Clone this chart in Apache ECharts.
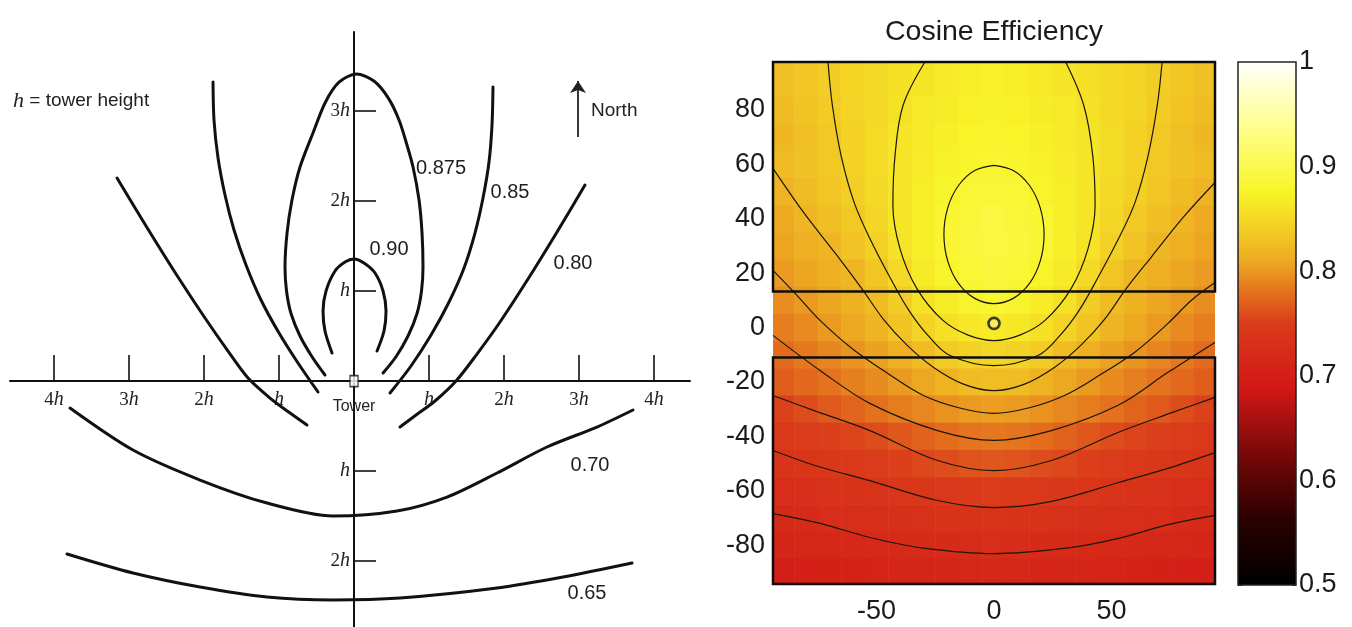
<!DOCTYPE html>
<html>
<head>
<meta charset="utf-8">
<title>Cosine efficiency of a heliostat field</title>
<script src="https://cdn.jsdelivr.net/npm/echarts@6/dist/echarts.min.js"></script>
<style>
  html, body { margin: 0; padding: 0; background: #ffffff; }
  #chart { width: 1352px; height: 627px; }
</style>
</head>
<body>
<div id="chart"></div>
<script>
// ---------- Left: iso-cosine-efficiency curves around a tower (units of tower height h) ----------
const sketchTicksX = [-4, -3, -2, -1, 0, 1, 2, 3, 4];
const sketchTicksY = [-2, -1, 1, 2, 3];

const iso090 = [[-0.293,0.311],[-0.387,0.556],[-0.413,0.778],[-0.373,1.0],[-0.253,1.222],[-0.12,1.322],[0,1.356],
  [0.133,1.311],[0.28,1.2],[0.387,1.0],[0.427,0.778],[0.4,0.556],[0.307,0.333]];
const iso0875 = [[-0.387,0.067],[-0.56,0.27],[-0.72,0.5],[-0.84,0.75],[-0.9,1.0],[-0.92,1.267],[-0.893,1.644],
  [-0.827,2.011],[-0.72,2.378],[-0.547,2.756],[-0.38,3.1],[-0.2,3.32],[0.03,3.411],[0.27,3.33],[0.46,3.14],
  [0.6,2.9],[0.7,2.64],[0.787,2.378],[0.867,2.011],[0.907,1.644],[0.92,1.267],[0.9,1.0],[0.84,0.75],[0.72,0.5],
  [0.56,0.27],[0.387,0.089]];
const iso085West = [[-1.88,3.322],[-1.867,2.9],[-1.813,2.478],[-1.72,2.067],[-1.6,1.678],[-1.44,1.289],[-1.24,0.9],
  [-1.0,0.533],[-0.747,0.2],[-0.48,-0.122]];
const iso085East = [[1.853,3.267],[1.84,2.844],[1.8,2.433],[1.72,2.033],[1.613,1.644],[1.467,1.256],[1.267,0.878],
  [1.027,0.511],[0.76,0.167],[0.48,-0.133]];
const iso080West = [[-3.16,2.256],[-2.773,1.722],[-2.373,1.189],[-1.987,0.7],[-1.68,0.333],[-1.413,0.033],
  [-1.12,-0.189],[-0.853,-0.356],[-0.627,-0.489]];
const iso080East = [[3.08,2.178],[2.707,1.656],[2.32,1.133],[1.947,0.656],[1.64,0.3],[1.36,0],[1.08,-0.222],
  [0.827,-0.378],[0.613,-0.511]];
const iso070 = [[-3.787,-0.3],[-2.947,-0.767],[-2.053,-1.1],[-1.16,-1.356],[-0.28,-1.5],[0.573,-1.444],
  [1.24,-1.289],[1.907,-1.022],[2.573,-0.733],[3.24,-0.511],[3.72,-0.322]];
const iso065 = [[-3.827,-1.922],[-2.947,-2.133],[-2.053,-2.289],[-1.16,-2.4],[-0.28,-2.433],[0.613,-2.411],
  [1.907,-2.3],[2.787,-2.178],[3.707,-2.022]];

// curve value tags: [text, x, y]
const isoTags = [['0.90',0.467,1.456],['0.875',1.16,2.356],['0.85',2.08,2.1],['0.80',2.92,1.31],
  ['0.70',3.147,-0.933],['0.65',3.107,-2.356]];
const northArrow = [[2.987,2.711],[2.987,3.333]];
const towerBase = [[0, 0]];

// ---------- Right: cosine efficiency map (x, y in m) ----------
const effX = [-90,-80,-70,-60,-50,-40,-30,-20,-10,0,10,20,30,40,50,60,70,80,90];
const effY = [90,80,70,60,50,40,30,20,10,0,-10,-20,-30,-40,-50,-60,-70,-80,-90];
const effRows = [
  [0.829,0.835,0.840,0.846,0.851,0.857,0.862,0.867,0.870,0.872,0.870,0.867,0.862,0.857,0.851,0.846,0.840,0.835,0.829],
  [0.825,0.832,0.839,0.846,0.852,0.859,0.865,0.869,0.872,0.874,0.872,0.869,0.865,0.859,0.852,0.846,0.839,0.832,0.825],
  [0.821,0.829,0.837,0.845,0.853,0.861,0.866,0.871,0.875,0.877,0.875,0.871,0.866,0.861,0.853,0.845,0.837,0.829,0.821],
  [0.824,0.830,0.836,0.844,0.853,0.862,0.868,0.874,0.878,0.880,0.878,0.874,0.868,0.862,0.853,0.844,0.836,0.830,0.824],
  [0.818,0.825,0.833,0.841,0.852,0.862,0.870,0.877,0.884,0.886,0.884,0.877,0.870,0.862,0.852,0.841,0.833,0.825,0.818],
  [0.811,0.819,0.828,0.836,0.849,0.862,0.871,0.881,0.886,0.890,0.886,0.881,0.871,0.862,0.849,0.836,0.828,0.819,0.811],
  [0.807,0.814,0.820,0.831,0.843,0.860,0.871,0.881,0.887,0.890,0.887,0.881,0.871,0.860,0.843,0.831,0.820,0.814,0.807],
  [0.802,0.808,0.814,0.820,0.833,0.851,0.866,0.877,0.884,0.887,0.884,0.877,0.866,0.851,0.833,0.820,0.814,0.808,0.802],
  [0.795,0.801,0.808,0.815,0.825,0.840,0.859,0.868,0.877,0.882,0.877,0.868,0.859,0.840,0.825,0.815,0.808,0.801,0.795],
  [0.786,0.793,0.801,0.809,0.818,0.832,0.846,0.857,0.863,0.867,0.863,0.857,0.846,0.832,0.818,0.809,0.801,0.793,0.786],
  [0.776,0.783,0.790,0.798,0.806,0.814,0.824,0.839,0.845,0.849,0.845,0.839,0.824,0.814,0.806,0.798,0.790,0.783,0.776],
  [0.768,0.774,0.780,0.787,0.794,0.801,0.809,0.817,0.825,0.827,0.825,0.817,0.809,0.801,0.794,0.787,0.780,0.774,0.768],
  [0.753,0.759,0.766,0.772,0.779,0.785,0.791,0.797,0.802,0.804,0.802,0.797,0.791,0.785,0.779,0.772,0.766,0.759,0.753],
  [0.745,0.748,0.751,0.755,0.759,0.765,0.771,0.777,0.781,0.783,0.781,0.777,0.771,0.765,0.759,0.755,0.751,0.748,0.745],
  [0.736,0.739,0.742,0.745,0.749,0.752,0.756,0.759,0.763,0.765,0.763,0.759,0.756,0.752,0.749,0.745,0.742,0.739,0.736],
  [0.725,0.728,0.731,0.734,0.737,0.740,0.742,0.744,0.747,0.749,0.747,0.744,0.742,0.740,0.737,0.734,0.731,0.728,0.725],
  [0.719,0.722,0.724,0.726,0.728,0.730,0.732,0.734,0.735,0.736,0.735,0.734,0.732,0.730,0.728,0.726,0.724,0.722,0.719],
  [0.710,0.712,0.714,0.716,0.718,0.720,0.721,0.722,0.723,0.724,0.723,0.722,0.721,0.720,0.718,0.716,0.714,0.712,0.710],
  [0.700,0.702,0.704,0.706,0.708,0.709,0.710,0.711,0.712,0.713,0.712,0.711,0.710,0.709,0.708,0.706,0.704,0.702,0.700]
];

// contour lines of the map, levels 0.88 ... 0.72
const c088 = [[0,59.6],[8.2,57.7],[15.1,52.2],[19.7,43.9],[21.3,34.2],[19.7,24.5],[15.1,16.2],[8.2,10.7],[0,8.8],
  [-8.2,10.7],[-15.1,16.2],[-19.7,24.5],[-21.3,34.2],[-19.7,43.9],[-15.1,52.2],[-8.2,57.7],[0,59.6]];
const c086 = [[-29.4,97.6],[-38.7,81.6],[-42.1,63.2],[-43,44.9],[-40,29],[-32.8,14.3],[-21.7,2.6],[-11,-2.8],[0,-4.8],
  [11,-2.8],[21.7,2.6],[32.8,14.3],[40,29],[43,44.9],[42,63.2],[38.2,81.6],[30.5,97.6]];
const c084 = [[-70.6,97.6],[-68.8,82],[-65,63],[-59.5,46],[-52.8,32.7],[-44,18],[-36,6],[-28,-3],[-18.7,-10.3],[0,-14],
  [18.7,-10.3],[28,-3],[36,6],[44,18],[53,32.7],[60,46],[65.5,63],[69.5,82],[71.5,97.6]];
const c082 = [[-94,58.5],[-81,42.3],[-66.8,26.5],[-56,14],[-47,3],[-37,-6.5],[-26,-14.5],[-13,-20.8],[0,-23.2],
  [13,-20.8],[26,-14.5],[37,-6.5],[47,3],[56,14],[67,26],[81,41],[94,53.3]];
const c080 = [[-94,21],[-84,12],[-74,2.6],[-60,-8],[-45,-17],[-30,-25],[-15,-29.5],[0,-31.6],[15,-29.5],[30,-25],
  [45,-17.5],[60,-9],[74,1.5],[84,10],[94,16.5]];
const c078 = [[-94,-2.9],[-74,-15.8],[-52.8,-27.9],[-24,-37.9],[0,-41.5],[24,-38],[53,-28.5],[74,-16.5],[94,-5.5]];
const c076 = [[-94,-25],[-75,-31],[-52.8,-37.9],[-24,-48.9],[0,-52.6],[24,-49],[53,-38.5],[75,-31.5],[94,-25.7]];
const c074 = [[-94,-45.2],[-75,-51],[-52.8,-56.3],[-24,-63.6],[0,-66.2],[24,-64],[53,-57],[75,-51.5],[94,-46]];
const c072 = [[-94,-68.4],[-74,-72],[-52.8,-77.2],[-31.5,-80.9],[0,-83.1],[31.5,-81],[53,-77.5],[74,-72.5],[94,-69.1]];

// heliostat sub-fields [x1, yTop, x2, yBottom] and the tower
const fieldBlocks = [[-94,97.6,94,13.2],[-94,-11,94,-94.3]];
const effTower = [[0, 1.5]];
const effTicksX = [-50, 0, 50];
const effTicksY = [-80, -60, -40, -20, 0, 20, 40, 60, 80];
const effRange = [0.5, 1];

// "hot"-style colour scale from 0.5 to 1
const hotColors = ['#000000','#2a0000','#780808','#d21717','#da3c1a','#eeae22','#f8f428','#ffff8c','#ffffff'];

// ---------- chart ----------
const chart = echarts.init(document.getElementById('chart'), null, { renderer: 'canvas' });

const SANS = 'Liberation Sans';
const SERIF = 'Liberation Serif';
const INK = '#111111';
const CELL = 10;
const X_LIM = [-94, 94];
const Y_LIM = [-94.3, 97.6];

const heatData = [];
effRows.forEach((row, i) => row.forEach((v, j) => heatData.push([effX[j], effY[i], v])));

function hLabel(v) {
  const k = Math.abs(Math.round(v));
  if (k === 0) return '{t|Tower}';
  return (k === 1 ? '' : '{n|' + k + '}') + '{h|h}';
}
const hRich = {
  n: { fontFamily: SERIF, fontSize: 19, color: '#222' },
  h: { fontFamily: SERIF, fontStyle: 'italic', fontSize: 20, color: '#222' },
  t: { fontFamily: SANS, fontSize: 16, color: '#222', padding: [9, 0, 0, 0] }
};

function curve(data) {
  return {
    type: 'line', xAxisIndex: 0, yAxisIndex: 0, data: data, smooth: 0.3,
    symbol: 'none', silent: true, clip: false,
    lineStyle: { color: INK, width: 3, cap: 'round' }
  };
}
function contour(data) {
  return {
    type: 'line', xAxisIndex: 1, yAxisIndex: 1, data: data, smooth: 0.35,
    symbol: 'none', silent: true, z: 4,
    lineStyle: { color: '#1c1608', width: 1.2 }
  };
}

const series = [];
[iso090, iso0875, iso085West, iso085East, iso080West, iso080East, iso070, iso065].forEach(c => series.push(curve(c)));

series.push({
  type: 'lines', coordinateSystem: 'cartesian2d', xAxisIndex: 0, yAxisIndex: 0, silent: true,
  symbol: ['none', 'arrow'], symbolSize: [1, 12],
  lineStyle: { color: '#222', width: 1.8, opacity: 1 },
  data: [{ coords: northArrow }]
});
series.push({
  type: 'scatter', xAxisIndex: 0, yAxisIndex: 0, data: towerBase, symbol: 'rect', symbolSize: [8, 11],
  silent: true, z: 5, itemStyle: { color: '#ffffff', borderColor: INK, borderWidth: 1.5 }
});
series.push({
  type: 'scatter', xAxisIndex: 0, yAxisIndex: 0, symbolSize: 2, silent: true, z: 6,
  itemStyle: { color: 'rgba(255,255,255,0)', opacity: 1 },
  data: isoTags.map(t => ({ name: t[0], value: [t[1], t[2]] })),
  label: { show: true, position: 'inside', formatter: '{b}', fontFamily: SANS, fontSize: 20,
    color: '#1e1e1e', opacity: 1, textBorderWidth: 0 },
  labelLayout: { hideOverlap: false }
});

const heatIndex = series.length;
series.push({
  type: 'custom', xAxisIndex: 1, yAxisIndex: 1, data: heatData, silent: true, z: 1,
  encode: { x: 0, y: 1 },
  renderItem: function (params, api) {
    const x = api.value(0), y = api.value(1);
    const left = x === effX[0] ? X_LIM[0] : x - CELL / 2;
    const right = x === effX[effX.length - 1] ? X_LIM[1] : x + CELL / 2;
    const top = y === effY[0] ? Y_LIM[1] : y + CELL / 2;
    const bottom = y === effY[effY.length - 1] ? Y_LIM[0] : y - CELL / 2;
    const p1 = api.coord([left, top]);
    const p2 = api.coord([right, bottom]);
    const cs = params.coordSys;
    const shape = echarts.graphic.clipRectByRect(
      { x: p1[0], y: p1[1], width: p2[0] - p1[0] + 0.6, height: p2[1] - p1[1] + 0.6 },
      { x: cs.x, y: cs.y, width: cs.width, height: cs.height });
    return shape && { type: 'rect', shape: shape, style: { fill: api.visual('color') } };
  }
});

[c088, c086, c084, c082, c080, c078, c076, c074, c072].forEach(c => series.push(contour(c)));

series.push({
  type: 'custom', xAxisIndex: 1, yAxisIndex: 1, data: fieldBlocks, silent: true, z: 6,
  encode: { x: [0, 2], y: [1, 3] },
  renderItem: function (params, api) {
    const p1 = api.coord([api.value(0), api.value(1)]);
    const p2 = api.coord([api.value(2), api.value(3)]);
    return {
      type: 'rect',
      shape: { x: p1[0], y: p1[1], width: p2[0] - p1[0], height: p2[1] - p1[1] },
      style: { fill: 'none', stroke: '#0d0d0d', lineWidth: 2.5 }
    };
  }
});
series.push({
  type: 'scatter', xAxisIndex: 1, yAxisIndex: 1, data: effTower, symbol: 'circle', symbolSize: 11,
  silent: true, z: 7, itemStyle: { color: '#f6ef6a', borderColor: INK, borderWidth: 2.6 }
});

// colour bar
series.push({
  type: 'custom', xAxisIndex: 2, yAxisIndex: 2, data: [[0, effRange[1], 1, effRange[0]]], silent: true,
  encode: { x: [0, 2], y: [1, 3] },
  renderItem: function (params, api) {
    const p1 = api.coord([api.value(0), api.value(1)]);
    const p2 = api.coord([api.value(2), api.value(3)]);
    const n = hotColors.length;
    const stops = hotColors.map((c, i) => ({ offset: 1 - i / (n - 1), color: c }));
    return {
      type: 'rect',
      shape: { x: p1[0], y: p1[1], width: p2[0] - p1[0], height: p2[1] - p1[1] },
      style: { fill: new echarts.graphic.LinearGradient(0, 0, 0, 1, stops), stroke: '#222', lineWidth: 1.5 }
    };
  }
});

const bigLabel = { fontFamily: SANS, fontSize: 27, color: '#1a1a1a' };

const option = {
  animation: false,
  backgroundColor: '#ffffff',
  grid: [
    { left: 10, top: 32, width: 680, height: 595, outerBoundsMode: 'none', containLabel: false },
    { left: 773, top: 62, width: 442, height: 522, outerBoundsMode: 'none', containLabel: false },
    { left: 1238, top: 62, width: 58, height: 523, outerBoundsMode: 'none', containLabel: false }
  ],
  xAxis: [
    {
      gridIndex: 0, type: 'value', min: -4.587, max: 4.48, position: 'bottom', offset: -246,
      axisLine: { show: true, onZero: false, lineStyle: { color: INK, width: 2 } },
      axisTick: { show: true, inside: true, length: 26, customValues: sketchTicksX.filter(v => v !== 0),
        lineStyle: { color: INK, width: 1.6 } },
      axisLabel: { show: true, customValues: sketchTicksX, margin: 9, formatter: hLabel, rich: hRich },
      splitLine: { show: false }
    },
    {
      gridIndex: 1, type: 'value', min: X_LIM[0], max: X_LIM[1],
      axisLine: { show: false, onZero: false }, axisTick: { show: false }, splitLine: { show: false },
      axisLabel: Object.assign({ customValues: effTicksX, margin: 14 }, bigLabel)
    },
    {
      gridIndex: 2, type: 'value', min: 0, max: 1, show: false,
      axisLine: { onZero: false }, splitLine: { show: false }
    }
  ],
  yAxis: [
    {
      gridIndex: 0, type: 'value', min: -2.733, max: 3.878, position: 'left', offset: -344,
      axisLine: { show: true, onZero: false, lineStyle: { color: INK, width: 2 } },
      axisTick: { show: true, inside: true, length: 22, customValues: sketchTicksY,
        lineStyle: { color: INK, width: 1.6 } },
      axisLabel: { show: true, customValues: sketchTicksY, margin: 4, formatter: hLabel, rich: hRich },
      splitLine: { show: false }
    },
    {
      gridIndex: 1, type: 'value', min: Y_LIM[0], max: Y_LIM[1],
      axisLine: { show: false, onZero: false }, axisTick: { show: false }, splitLine: { show: false },
      axisLabel: Object.assign({ customValues: effTicksY, margin: 8 }, bigLabel)
    },
    {
      gridIndex: 2, type: 'value', min: effRange[0], max: effRange[1], interval: 0.1, position: 'right',
      axisLine: { show: false, onZero: false },
      axisTick: { show: true, inside: true, length: 4, lineStyle: { color: '#333', width: 1 } },
      splitLine: { show: false },
      axisLabel: Object.assign({ margin: 3, formatter: v => (Math.abs(v - 1) < 1e-9 ? '1' : v.toFixed(1)) }, bigLabel)
    },
    {
      gridIndex: 2, type: 'value', min: effRange[0], max: effRange[1], interval: 0.1, position: 'left',
      axisLine: { show: false, onZero: false },
      axisTick: { show: true, inside: true, length: 4, lineStyle: { color: '#333', width: 1 } },
      splitLine: { show: false }, axisLabel: { show: false }
    }
  ],
  visualMap: {
    type: 'continuous', show: false, min: effRange[0], max: effRange[1], dimension: 2,
    seriesIndex: heatIndex, inRange: { color: hotColors }
  },
  graphic: [
    {
      type: 'text', x: 994, y: 32, silent: true,
      style: { text: 'Cosine Efficiency', fontFamily: SANS, fontSize: 28.5, fill: '#1a1a1a',
        align: 'center', verticalAlign: 'middle', textAlign: 'center', textVerticalAlign: 'middle' }
    },
    {
      type: 'text', x: 13, y: 101, silent: true,
      style: {
        text: '{i|h} = tower height', fontFamily: SANS, fontSize: 19, fill: '#222',
        verticalAlign: 'middle', textVerticalAlign: 'middle',
        rich: { i: { fontFamily: SERIF, fontStyle: 'italic', fontSize: 22, fill: '#222' } }
      }
    },
    {
      type: 'text', x: 591, y: 111, silent: true,
      style: { text: 'North', fontFamily: SANS, fontSize: 19, fill: '#222',
        verticalAlign: 'middle', textVerticalAlign: 'middle' }
    }
  ],
  series: series
};

chart.setOption(option);
</script>
</body>
</html>
